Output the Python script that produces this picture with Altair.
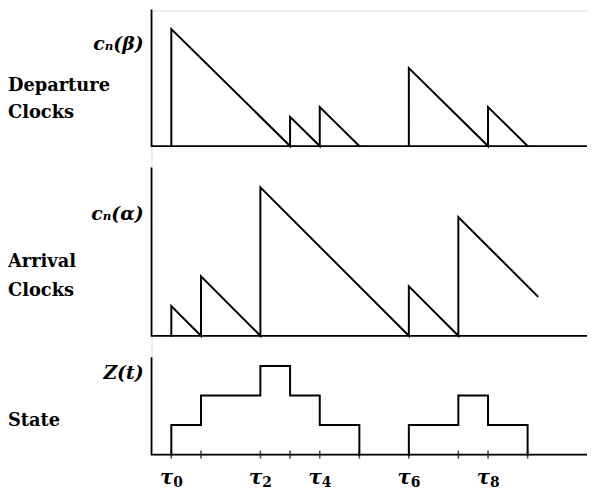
import altair as alt
import pandas as pd

# event epochs tau_0 .. tau_9 on the time axis (axis runs 0..44)
tau = [2, 5, 11, 14, 17, 21, 26, 31, 34, 38]
tau_labelled = [0, 2, 4, 6, 8]          # epochs that carry a label
x_max = 44

# departure clocks: two busy periods, reset jumps then slope -1
dep_seg = [0, 0, 0, 0, 0, 0, 0, 1, 1, 1, 1, 1]
dep_t = [2, 2, 14, 14, 17, 17, 21, 26, 26, 34, 34, 38]
dep_v = [0, 12, 0, 3, 0, 4, 0, 0, 8, 0, 4, 0]

# arrival clocks
arr_t = [2, 2, 5, 5, 11, 11, 26, 26, 31, 31, 39]
arr_v = [0, 3, 0, 6, 0, 15, 0, 5, 0, 12, 4]

# state Z(t) (number in system, step function), two busy periods
st_seg = [0, 0, 0, 0, 0, 0, 0, 1, 1, 1, 1, 1]
st_t = [2, 2, 5, 11, 14, 17, 21, 26, 26, 31, 34, 38]
st_v = [0, 1, 2, 3, 2, 1, 0, 0, 1, 2, 1, 0]

# vertical extent of each panel's value axis
dep_top, arr_top, st_top = 14, 17, 3.3

SERIF = "DejaVu Serif"
W, H = 440, 449

# each panel gets its own band of the drawing (pixel ranges of the y scales)
sc_dep = alt.Scale(domain=[0, dep_top], range=[137, -1], nice=False, zero=False)
sc_arr = alt.Scale(domain=[0, arr_top], range=[328.7, 158.7], nice=False, zero=False)
sc_st = alt.Scale(domain=[0, st_top], range=[448.7, 350.3], nice=False, zero=False)
sc_x = alt.Scale(domain=[0, x_max], nice=False, zero=False)


def X(field="t"):
    return alt.X(f"{field}:Q", scale=sc_x, axis=None)


def Y(sc, field="v"):
    return alt.Y(f"{field}:Q", scale=sc, axis=None)


def series(ts, vs, sc, segs=None, interp="linear"):
    df = pd.DataFrame({"t": ts, "v": vs, "i": list(range(len(ts))),
                       "s": segs if segs is not None else [0] * len(ts)})
    return alt.Chart(df).mark_line(color="black", strokeWidth=2, interpolate=interp,
                                   strokeJoin="miter", strokeCap="square").encode(
        x=X(), y=Y(sc), order="i:Q", detail="s:N")


def frame(top, sc):
    df = pd.DataFrame({"t": [0, 0, x_max], "v": [top, 0, 0], "i": [0, 1, 2]})
    return alt.Chart(df).mark_line(color="black", strokeWidth=1.8,
                                   strokeJoin="miter").encode(
        x=X(), y=Y(sc), order="i:Q")


def text_layer(label, x, y, **kw):
    return alt.Chart(pd.DataFrame({"label": [label]})).mark_text(
        font=SERIF, color="black", baseline="alphabetic", **kw
    ).encode(text="label:N", x=alt.value(x), y=alt.value(y))


tick_df = pd.DataFrame({"t": tau, "z": [0] * len(tau)})
lab_df = pd.DataFrame({"t": [tau[k] for k in tau_labelled],
                       "d": [str(k) for k in tau_labelled]})

ticks = alt.Chart(tick_df).mark_tick(orient="vertical", size=8, thickness=1.6,
                                     color="black").encode(x=X(), y=Y(sc_st, "z"))
tau_sym = alt.Chart(lab_df).mark_text(text="τ", font=SERIF, fontSize=20, fontStyle="italic",
                                      fontWeight="bold", color="black", baseline="alphabetic",
                                      align="right", dx=2).encode(
    x=X(), y=alt.value(478.5))
tau_sub = alt.Chart(lab_df).mark_text(font=SERIF, fontSize=14, fontWeight="bold",
                                      color="black", baseline="alphabetic",
                                      align="left", dx=2).encode(
    x=X(), y=alt.value(481), text="d:N")

FS = 18
layers = [
    frame(dep_top, sc_dep), frame(arr_top, sc_arr), frame(st_top, sc_st),
    series(dep_t, dep_v, sc_dep, dep_seg),
    series(arr_t, arr_v, sc_arr),
    series(st_t, st_v, sc_st, st_seg, interp="step-after"),
    ticks, tau_sym, tau_sub,
    text_layer("cₙ(β)", -8, 40, align="right", fontSize=19, fontStyle="italic", fontWeight="bold"),
    text_layer("Departure", -145, 81, align="left", fontSize=FS, fontWeight="bold"),
    text_layer("Clocks", -145, 108.7, align="left", fontSize=FS, fontWeight="bold"),
    text_layer("cₙ(α)", -8, 212, align="right", fontSize=19, fontStyle="italic", fontWeight="bold"),
    text_layer("Arrival", -145, 258.7, align="left", fontSize=FS, fontWeight="bold"),
    text_layer("Clocks", -145, 288.7, align="left", fontSize=FS, fontWeight="bold"),
    text_layer("Z(t)", -8, 372, align="right", fontSize=19, fontStyle="italic", fontWeight="bold"),
    text_layer("State", -145, 420, align="left", fontSize=FS, fontWeight="bold"),
]

chart = alt.layer(*layers).resolve_scale(y="independent").properties(
    width=W, height=H,
    autosize=alt.AutoSizeParams(type="none"),
    padding={"left": 145, "top": 0, "right": 0, "bottom": 33},
).configure_view(stroke=None).configure(background="white")

chart.save("out.html", embed_options={"renderer": "svg", "actions": False})
